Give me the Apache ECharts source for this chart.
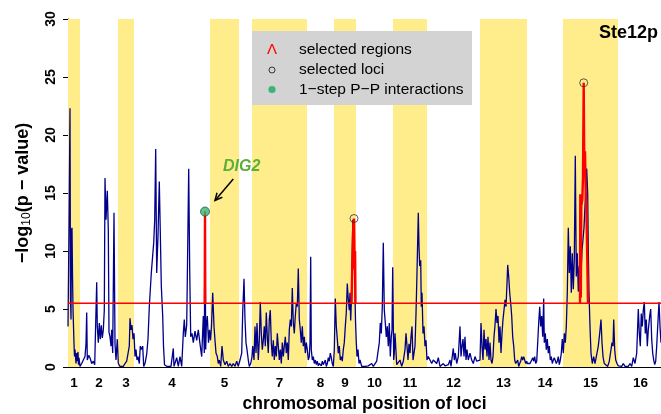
<!DOCTYPE html>
<html>
<head>
<meta charset="utf-8">
<script src="https://cdn.jsdelivr.net/npm/echarts@6/dist/echarts.min.js"></script>
<style>html,body{margin:0;padding:0;background:#fff}#c{width:661px;height:414px}</style>
</head>
<body>
<div id="c"></div>
<script>
// chromosome boundaries (cumulative locus position units)
const chromStarts = [0,12,50,66,142,171,184,239,266,288,325,359,412,459,495,550];
const chromEnds   = [12,50,66,142,171,184,239,266,288,325,359,412,459,495,550,595];
const chromLabels = ['1','2','3','4','5','6','7','8','9','10','11','12','13','14','15','16'];
const hiddenLabels = ['6']; // omitted in the original (overlap)
const yTicks = [0,5,10,15,20,25,30];
const threshold = 5.5;

// -log10(p) profile along the genome
const loci = [
[0,3.5],[1,12],[2,22.3],[2.5,6],[3,4.1],[3.5,11.8],[4,12],[4.5,8],[5,5],[6,2],[6.5,0.9],[7,1.5],[8,0.3],[8.5,1.2],[9,0.5],[10,1.3],[10.5,0.2],[11,0.8],[12,0.05],
[13.7,0.3],[15.3,0.6],[17,0.9],[18,2],[18.7,4.7],[19.3,0.6],[20.7,1],[22,0.8],[23.7,0.3],[25.3,0.5],[26.7,0.2],[27.7,3.8],[28.7,7.3],[29.3,3.5],[30.3,2.1],[31.3,3.8],[32.3,2.4],[33.3,3.6],[34.3,2.5],[35.3,3.2],[36.3,4.9],[37,16.3],[38,12.7],[39.3,15.2],[40.3,11.8],[41,3],[42,2.6],[43,1.8],[43.7,3.2],[44.7,1.2],[46,13.3],[47,2],[48,0.6],[49.3,2.4],[50.3,0.3],
[52,0.05],[53.7,0.2],[55.3,0.05],[57,0.3],[58.7,0.5],[60.3,0.6],[61.3,1.8],[62,4.2],[63,3.2],[64,3.6],[65,2.4],[66,2.9],
[67,0.9],[68,1.5],[69,0.6],[70,0.9],[71.3,0.3],[72.3,1.8],[73.3,1.5],[74.7,1.8],[75.7,0.05],[77,0.3],[78.7,1.1],[80,2.4],[81.3,5.2],[83.3,8.1],[85.7,10.7],[86.7,12.7],[87.7,18.8],[88.7,8.1],[90,11.3],[91.3,16.0],[92.3,11.6],[93.3,7],[94.7,4.4],[95.5,1.8],[96.5,0.2],[97.5,0.05],[99,0.05],[101,0.05],[103,0.05],[105.3,1.6],[106,0.05],[108.7,0.8],[110.3,0.05],[112,0.9],[113.7,0.05],[115.3,2.9],[116.3,4.1],[117.3,2.6],[118.7,3.6],[119.3,7.5],[120.7,17.1],[121.7,8.4],[122.7,2.6],[124,2.9],[125.3,2.1],[127,3.1],[128.7,2.3],[130.3,3.2],[132,2],[133.7,0.9],[135.3,4.4],[136.3,1.2],[137,13.4],[137.7,1.5],[138.3,3.5],[139.3,4.4],[140.5,2.1],[141.5,3.2],
[142.5,2.3],[143.5,3.5],[144.7,6.4],[146,3.5],[147,2.3],[148,1.2],[149.3,0.9],[150.3,0.3],[151.3,0.6],[152.7,0.05],[154,1.8],[155.3,0.6],[157,0.2],[158.7,0.5],[160.3,0.05],[162,0.3],[163.7,0.05],[165.3,0.3],[167,0.05],[168.7,0.5],[170.3,0.05],
[172,0.6],[173.7,1.2],[174.7,4.7],[176,7.6],[177,4.1],[178,2.1],[179,1.5],[180.3,0.6],[181.3,0.05],[182.7,0.3],[184,0.9],
[184.7,1.8],[186,0.6],[187,3.5],[188,1.2],[189,3.8],[190.3,0.6],[191.3,2.3],[192.3,5.6],[193.3,2.9],[194.3,1.5],[195.3,2.3],[196.3,3.5],[197.3,1.8],[198.3,4.7],[199.3,2.6],[200.3,1.2],[201.3,4.1],[202.3,4.9],[203.3,2.1],[204.3,0.9],[205.3,2.3],[206.3,0.6],[207.3,1.8],[208.3,0.9],[209.3,2.9],[210.3,1.8],[211.3,0.6],[212.3,1.5],[213.3,0.3],[214.3,2.1],[215.3,0.9],[216.3,1.8],[217.3,2.6],[218.3,1.2],[219.3,2.1],[220.3,0.6],[221.3,3.2],[222.3,4.1],[223.3,3.5],[224.3,6.8],[225.3,3.8],[226.3,2.9],[227.3,4.4],[228.3,5.5],[229.3,5.2],[230.3,8.5],[231.3,4.1],[232.3,3.2],[233.3,2.1],[234.3,3.5],[235.3,1.8],[236.3,2.6],[237.3,1.2],[238.3,2.1],
[239.3,1.5],[240.3,0.6],[241.3,0.9],[242,2.1],[242.7,9.5],[243.3,1.5],[244.3,0.6],[245.3,0.9],[246.3,0.3],[247.3,0.6],[248.3,0.2],[249.3,0.5],[250.3,0.1],[251.3,0.3],[252.3,0.3],[253.3,0.1],[254.3,0.5],[255.3,0.2],[256.3,0.3],[257.3,0.6],[258.3,0.05],[259.3,0.3],[260.3,0.8],[261.3,0.5],[262.3,1.2],[263.3,0.8],[264.3,0.3],[265.3,0.05],
[266.3,1.5],[267.3,5.9],[268.3,3.5],[269.3,2.4],[270.3,1.2],[271.3,1.8],[272.3,0.6],[273.3,0.9],[274.3,0.5],[275.3,1.5],[276.3,2.1],[277.3,3.5],[278.3,4.7],[279.3,7.2],[280.3,5.8],[281.3,4.9],[282,6.4],[282.7,4],[283.5,6],[284.8,12.7],[286.5,8.4],[287.5,4],[288.3,2.1],[289,0.9],[290,1.5],[291,0.3],
[292,0.6],[293.7,0.05],[295.3,0.2],[297,0.05],[298.7,0.05],[300.3,0.1],[302,0.05],[303.7,0.3],[305.3,0.05],[307,0.2],[308.7,0.5],[310.3,0.6],[311.3,2.1],[312.3,3.8],[313.3,2.9],[314.3,5.2],[315.3,10.7],[316.3,4.9],[317.3,3.8],[318.3,2.6],[319.3,3.5],[320.3,1.8],[321.3,3.8],[322.3,0.9],[323.3,2.6],[324,3.2],[324.7,8.6],[325.7,0.6],
[326.3,1.2],[327,2.9],[328.7,0.2],[330.3,0.05],[332,0.6],[333.7,0.05],[335.3,0.5],[337,1.5],[338,2.9],[339,1.8],[340,0.6],[341,2],[342,1.2],[343,2.6],[344,3.5],[345,0.6],[346,1.2],[347,1.8],[348,4.6],[349,8.1],[350.3,13.3],[351,10.4],[351.7,8.7],[352.7,9.2],[353.3,5.2],[354,6.4],[355,2.9],[356,3.5],[357,1.8],[358,2.3],[359,0.6],
[360.3,0.9],[362,0.6],[363.7,0.3],[365.3,0.6],[367,0.5],[368.7,0.3],[370.3,0.8],[372,0.05],[373.7,0.2],[375.3,0.3],[377,0.1],[378.7,0.05],[380.3,0.2],[382,0.6],[383,0.05],[385.3,1.6],[386.3,0.6],[387.3,1.2],[388.7,0.3],[390.3,0.9],[392,3.5],[393,0.9],[394,1.8],[395,2.4],[396,0.9],[397,2.6],[398,0.6],[399,1.5],[400.3,0.6],[402,1.2],[403.7,0.6],[405.3,0.3],[407,0.9],[408.7,0.5],[410.3,0.6],
[412,0.6],[413,3.8],[414,1.8],[415,0.6],[416,3.2],[417,1.5],[418,2.4],[419,0.9],[420,2.6],[421,0.6],[422,2.1],[423,0.6],[424,0.3],[425,0.9],[426,2.6],[427,3.6],[428,5.0],[429,3.8],[430,4.4],[431,2.1],[432,3.5],[433,1.2],[434,2.9],[435,4.1],[436,4.9],[437,5.8],[438,5.2],[439,7.2],[439.7,8.8],[440.7,7.8],[441.7,6.4],[442.7,5.5],[443.7,4.4],[444.7,2.6],[445.7,1.8],[446.7,0.6],[447.7,0.3],[448.7,0.2],[449.7,0.6],[450.7,0.05],[451.7,0.3],[452.7,0.5],[453.7,0.9],[454.7,0.6],[455.7,0.9],[456.7,0.8],[457.7,0.3],[458.7,0.5],
[459.3,0.3],[460.3,0.2],[462,0.3],[463.7,0.6],[464.7,0.8],[465.7,0.5],[466.7,0.9],[467.7,0.3],[468.7,0.5],[469.7,2.1],[470.7,3.8],[471.7,5.2],[472.7,3.5],[473.7,4.4],[474.7,2.6],[475.7,5.9],[476.3,2.1],[477.3,2.9],[478.3,1.5],[479.3,2.4],[480.3,1.2],[481.3,1.8],[482.3,0.6],[483.3,0.9],[484.3,0.3],[485.3,0.6],[486.3,0.8],[487.3,0.9],[488.3,0.3],[489.3,0.5],[490.3,0.9],[491.3,0.2],[492.3,0.6],[493.3,1.2],[494.3,2.4],
[495.3,1.2],[496.3,2.9],[497.3,2.1],[498.3,3.5],[499.3,6.4],[500.3,12],[501.3,8.1],[502.3,10.4],[503.3,6.4],[504.3,9.8],[505.3,6.7],[506.3,9.3],[507.3,18.2],[508.3,7.8],[509.3,9.8],[510.3,6.5],[511.3,8.7],[512.3,6.4],[514,10],[516,12],[518.7,17.1],[519.7,14.9],[520.3,10],[521,6.4],[522,3.5],[523,1.2],[524.3,0.3],[525.7,0.9],[527,0.3],[528.7,0.2],[530.3,1.8],[531.7,2.9],[533,4.1],[534,2.1],[535,0.9],[536.3,0.3],[538,0.2],[539.7,0.05],[541.3,0.5],[543,1.5],[544,2.1],[545,1.8],[545.7,4.1],[546.7,1.5],[547.7,0.6],[549,0.3],
[550.3,0.1],[552,0.2],[553.7,0.05],[555.3,0.3],[557,0.05],[558.7,0.2],[560.3,0.05],[562,0.3],[563.7,0.05],[565.3,0.8],[567,0.3],[568.7,1.2],[570.3,5.0],[571.3,2.9],[572.3,1.8],[573.3,4.6],[574.3,3.5],[575.3,4.9],[576.3,5.6],[577.3,2.9],[578.3,4.1],[579.3,1.8],[580.3,3.2],[581.7,4.4],[582.7,5.0],[583.7,2.4],[584.7,1.2],[585.7,0.6],[586.7,0.2],[587.7,0.5],[588.7,1.8],[589.7,3.5],[591,5.6],[592,3.5],[593,2.1]
];

// selected regions (red)
const region1 = [[136.7,5.5],[137,13.4],[137.3,5.5]];
const region2 = [[283.5,5.5],[284.5,9.5],[285.3,12.3],[286,12.8],[286.7,8.4],[287.1,10],[287.5,5.5]];
const region3 = [[512,5.5],[512.3,14.9],[512.8,6.0],[513.3,13.9],[514.3,14.4],[515,16.4],[515.7,24.5],[516.3,16.7],[517,18.6],[517.7,15],[518.3,14],[519.3,9.2],[520,5.5]];
const selectedLoci = [[286,12.8],[515.7,24.5]];
const ppInteractions = [[137,13.4]];
const dig2Label = {text:'DIG2', at:[173.7,17.3], arrowFrom:[165.3,16.2], arrowTo:[147,14.35]};

const FONT = '"Liberation Sans", Arial, Helvetica, sans-serif';
const bands = [];
chromStarts.forEach((s,i)=>{ if(i%2===0) bands.push([{xAxis:s},{xAxis:chromEnds[i]}]); });
const centers = chromStarts.map((s,i)=>(s+chromEnds[i])/2);
const shownCenters = centers.filter((c,i)=>hiddenLabels.indexOf(chromLabels[i])<0);

const chart = echarts.init(document.getElementById('c'));
const redLine = d => ({type:'line', data:d, showSymbol:false, z:5, lineStyle:{color:'#ff0000', width:2.4}, silent:true});
chart.setOption({
  animation:false,
  grid:{left:68, right:0, top:19, bottom:47, containLabel:false, outerBoundsMode:'none'},
  xAxis:[{
    type:'value', min:0, max:593,
    axisLine:{show:true, onZero:false, lineStyle:{color:'#000', width:1}},
    axisTick:{show:false}, splitLine:{show:false},
    axisLabel:{customValues:shownCenters, margin:9, color:'#000', fontFamily:FONT, fontWeight:'bold', fontSize:13.5,
      formatter:v=>{ let k=0,b=1e9; centers.forEach((c,i)=>{ if(Math.abs(c-v)<b){b=Math.abs(c-v);k=i;} }); return chromLabels[k]; }},
    name:'chromosomal position of loci', nameLocation:'middle', nameGap:28,
    nameTextStyle:{color:'#000', fontFamily:FONT, fontWeight:'bold', fontSize:17.5}
  },{
    type:'value', min:0, max:593, position:'top',
    axisLine:{show:true, lineStyle:{color:'#000', width:1}}, axisTick:{show:false}, axisLabel:{show:false}, splitLine:{show:false}
  }],
  yAxis:{
    type:'value', min:0, max:30, interval:5,
    axisLine:{show:true, lineStyle:{color:'#000', width:1}},
    axisTick:{show:true, length:5, lineStyle:{color:'#000'}},
    splitLine:{show:false},
    axisLabel:{rotate:90, margin:10, color:'#000', fontFamily:FONT, fontWeight:'bold', fontSize:14, formatter:v=>yTicks.indexOf(v)>=0?String(v):''},
    name:'{a|−log}{s|10}{a|(p − value)}', nameLocation:'middle', nameGap:35, nameRotate:90,
    nameTextStyle:{rich:{a:{color:'#000', fontFamily:FONT, fontWeight:'bold', fontSize:18}, s:{color:'#000', fontFamily:FONT, fontSize:12, padding:[8,0,0,0]}}}
  },
  series:[
    {type:'line', data:[], z:1, silent:true, markArea:{silent:true, itemStyle:{color:'#FFEC8B'}, data:bands}},
    {type:'line', data:loci, showSymbol:false, z:2, silent:true, lineStyle:{color:'#00008B', width:1.3}},
    {type:'line', data:[[0,threshold],[593,threshold]], showSymbol:false, z:4, silent:true, lineStyle:{color:'#ff0000', width:1.5}},
    redLine(region1), redLine(region2), redLine(region3),
    {type:'scatter', data:selectedLoci, symbol:'circle', symbolSize:8, z:6, silent:true, itemStyle:{color:'rgba(0,0,0,0)', borderColor:'#333', borderWidth:1}},
    {type:'scatter', data:ppInteractions, symbol:'circle', symbolSize:9, z:7, silent:true, itemStyle:{color:'#3CB371', borderColor:'#1d5a38', borderWidth:1}}
  ]
});

// annotations positioned from data coordinates
const P = d => chart.convertToPixel({gridIndex:0}, d);
const t = P(dig2Label.at), a0 = P(dig2Label.arrowFrom), a1 = P(dig2Label.arrowTo);
const ang = Math.atan2(a1[1]-a0[1], a1[0]-a0[0]);
const hl = 8, ha = Math.PI/7;
const h1 = [a1[0]-hl*Math.cos(ang-ha), a1[1]-hl*Math.sin(ang-ha)];
const h2 = [a1[0]-hl*Math.cos(ang+ha), a1[1]-hl*Math.sin(ang+ha)];
chart.setOption({graphic:[
  {type:'text', x:t[0], y:t[1], style:{text:dig2Label.text, fill:'#5DAE3A', font:'italic bold 16px '+FONT, align:'center', verticalAlign:'middle'}, z:20},
  {type:'line', shape:{x1:a0[0],y1:a0[1],x2:a1[0],y2:a1[1]}, style:{stroke:'#000', lineWidth:1.5}, z:20},
  {type:'polyline', shape:{points:[h1,a1,h2]}, style:{stroke:'#000', lineWidth:1.5, fill:null}, z:20},
  // legend
  {type:'rect', shape:{x:252, y:31, width:220, height:74}, style:{fill:'#D3D3D3'}, z:30},
  {type:'text', x:272, y:50, style:{text:'Λ', fill:'#ff0000', font:'15px '+FONT, align:'center', verticalAlign:'middle'}, z:31},
  {type:'circle', shape:{cx:272, cy:70, r:3}, style:{fill:null, stroke:'#333', lineWidth:1}, z:31},
  {type:'circle', shape:{cx:272, cy:89.5, r:3.6}, style:{fill:'#3CB371', stroke:null}, z:31},
  {type:'text', x:299, y:50, style:{text:'selected regions', fill:'#000', font:'15.5px '+FONT, verticalAlign:'middle'}, z:31},
  {type:'text', x:299, y:70, style:{text:'selected loci', fill:'#000', font:'15.5px '+FONT, verticalAlign:'middle'}, z:31},
  {type:'text', x:299, y:89.5, style:{text:'1−step P−P interactions', fill:'#000', font:'15.5px '+FONT, verticalAlign:'middle'}, z:31},
  {type:'text', x:658, y:33, style:{text:'Ste12p', fill:'#000', font:'bold 18px '+FONT, align:'right', verticalAlign:'middle'}, z:31}
]});
</script>
</body>
</html>
